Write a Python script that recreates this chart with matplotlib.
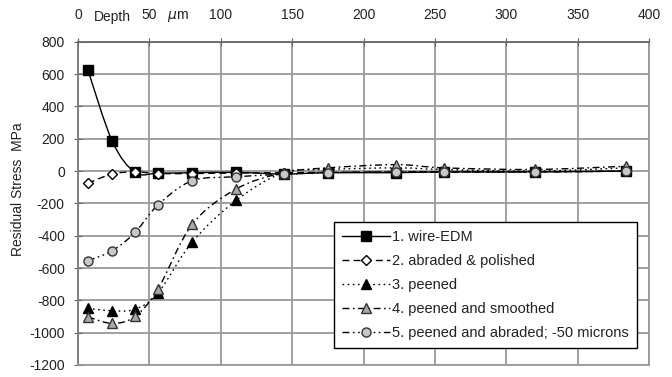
import numpy as np
import matplotlib
matplotlib.use("Agg")
import matplotlib.pyplot as plt
from matplotlib.path import Path
from matplotlib.patches import PathPatch
from matplotlib.lines import Line2D
from matplotlib.transforms import blended_transform_factory

plt.rcParams['font.family'] = ['Liberation Sans', 'DejaVu Sans']
plt.rcParams['axes.unicode_minus'] = False

# depth below surface, micrometres
depth = [7, 24, 40, 56, 80, 111, 144, 175, 223, 256, 320, 384]

wire_edm = [625, 185, -8, -13, -10, -8, -18, -10, -10, -5, -5, 0]
abraded_polished = [-75, -18, -5, -15, -15, -12, -10, -8, -5, -5, -5, 0]
peened = [-850, -865, -855, -755, -440, -180, -10, 10, 20, 10, 0, 20]
peened_smoothed = [-902, -943, -900, -730, -330, -110, -10, 20, 40, 20, 10, 30]
peened_abraded = [-555, -493, -380, -210, -60, -35, -20, -10, -5, -5, -5, 0]

labels = ["1. wire-EDM", "2. abraded & polished", "3. peened",
          "4. peened and smoothed", "5. peened and abraded; -50 microns"]

x_ticks = [0, 50, 100, 150, 200, 250, 300, 350, 400]
y_ticks = [800, 600, 400, 200, 0, -200, -400, -600, -800, -1000, -1200]


def smooth_path(xs, ys):
    """Catmull-Rom curve through the points, as cubic Bezier segments."""
    p = np.column_stack([xs, ys]).astype(float)
    n = len(p)
    verts = [p[0]]
    codes = [Path.MOVETO]
    for i in range(n - 1):
        p0 = p[i - 1] if i > 0 else p[i]
        p1, p2 = p[i], p[i + 1]
        p3 = p[i + 2] if i + 2 < n else p[i + 1]
        c1 = p1 + (p2 - p0) / 6.0
        c2 = p2 - (p3 - p1) / 6.0
        verts += [c1, c2, p2]
        codes += [Path.CURVE4] * 3
    return Path(verts, codes)


fig = plt.figure(figsize=(6.72, 3.77), dpi=100)
ax = fig.add_axes([0.116, 0.032, 0.85, 0.857])

grid_c = '#999999'
ax.set_xlim(0, 400)
ax.set_ylim(-1200, 800)
ax.set_xticks(x_ticks)
ax.set_yticks(y_ticks)
ax.grid(True, color=grid_c, linewidth=1.3)
ax.set_axisbelow(True)
for s in ax.spines.values():
    s.set_color(grid_c)
    s.set_linewidth(1.3)
ax.spines['top'].set_color('#666666')
ax.spines['left'].set_color('#777777')
ax.xaxis.tick_top()
ax.tick_params(axis='x', direction='inout', length=6, color='#666666',
               labelsize=10, pad=11.5, labelcolor='#222222')
ax.tick_params(axis='y', direction='inout', length=6, color='#666666',
               labelsize=10, pad=6.5, labelcolor='#222222')

ax.set_ylabel("Residual Stress  MPa", fontsize=10, color='#222222')
ax.yaxis.set_label_coords(-0.093, 0.543)

# axis captions placed among the top tick labels
cap_tr = blended_transform_factory(ax.transData, fig.transFigure)
ax.text(24, 1 - 16.5 / 377, "Depth", transform=cap_tr,
        ha='center', va='center', fontsize=10, color='#222222')
ax.text(70, 1 - 16.5 / 377, r"$\mu$m", transform=cap_tr,
        ha='center', va='center', fontsize=10, color='#222222')

series = [
    (wire_edm, '-', 's', 'black', 'black', 6.5),
    (abraded_polished, (0, (5, 3)), 'D', 'white', 'black', 5),
    (peened, (0, (1.2, 2.5)), '^', 'black', 'black', 7),
    (peened_smoothed, (0, (5, 2.5, 1.2, 2.5)), '^', '#a8a8a8', '#333333', 7),
    (peened_abraded, (0, (5, 2.5, 1.2, 2.5, 1.2, 2.5)), 'o', '#c8c8c8', '#333333', 6.5),
]

handles = []
for (vals, ls, mk, fc, ec, ms), lab in zip(series, labels):
    patch = PathPatch(smooth_path(depth, vals), fill=False, edgecolor='black',
                      linewidth=1.0, linestyle=ls, zorder=3)
    ax.add_patch(patch)
    ax.plot(depth, vals, linestyle='none', marker=mk, markersize=ms,
            markerfacecolor=fc, markeredgecolor=ec, markeredgewidth=1.0,
            zorder=4)
    handles.append(Line2D([], [], color='black', linewidth=1.0, linestyle=ls,
                          marker=mk, markersize=ms, markerfacecolor=fc,
                          markeredgecolor=ec, label=lab))

leg = ax.legend(handles=handles, loc='lower right',
                bbox_to_anchor=(0.979, 0.053), borderaxespad=0,
                fontsize=10.5, frameon=True, fancybox=False,
                edgecolor='black', framealpha=1.0, handlelength=3.3,
                handletextpad=0.15, borderpad=0.55, labelspacing=0.68)
leg.get_frame().set_linewidth(1.0)
for t in leg.get_texts():
    t.set_color('#222222')

fig.savefig("out.png", dpi=100)
